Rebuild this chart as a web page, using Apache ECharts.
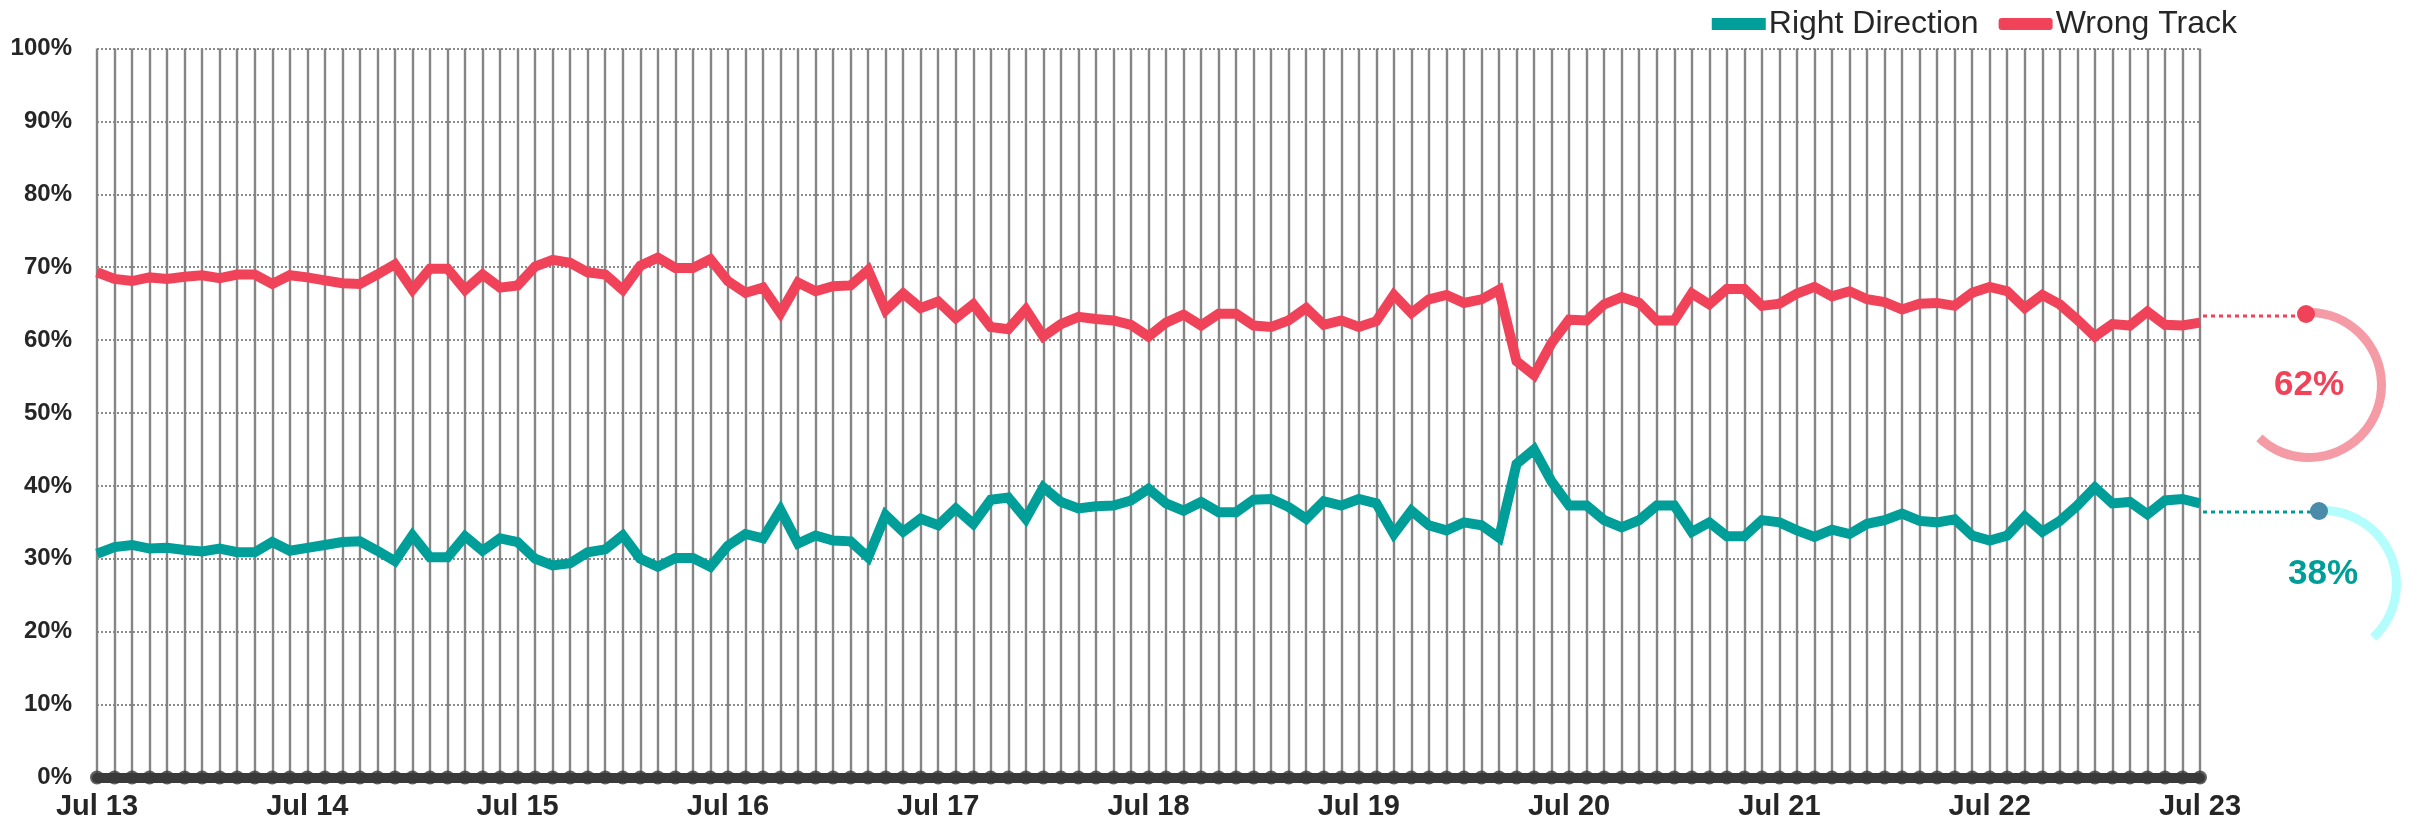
<!DOCTYPE html>
<html lang="en">
<head>
	<meta charset="UTF-8">
	<title>Right Direction / Wrong Track</title>
	<script src="https://cdn.jsdelivr.net/npm/echarts@6/dist/echarts.min.js"></script>
</head>
<style>
	html, body { margin: 0; padding: 0; background: #fff; }
	#main { width: 2410px; height: 826px; }
</style>
<body>
<div id="main"></div>
<script>
	// months Jul 13 .. Jul 23
	var monthNames = ['Jul', 'Aug', 'Sep', 'Oct', 'Nov', 'Dec', 'Jan', 'Feb', 'Mar', 'Apr', 'May', 'Jun'];
	var months = [];
	for (var i = 0; i <= 120; i++) {
		months.push(monthNames[i % 12] + ' ' + (13 + Math.floor((i + 6) / 12)));
	}

	var wrongTrack = [
		69.3, 68.4, 68.1, 68.6, 68.4, 68.7, 68.9, 68.5, 69.0, 69.0, 67.7, 68.9, 68.6, 68.2, 67.8, 67.7, 69.0, 70.4, 66.9, 69.8, 69.8,
		66.9, 69.0, 67.2, 67.5, 70.1, 71.0, 70.6, 69.3, 69.0, 66.9, 70.2, 71.3, 69.9, 69.9, 71.1, 68.1, 66.5, 67.2, 63.7, 67.9,
		66.7, 67.4, 67.5, 69.6, 64.1, 66.4, 64.4, 65.3, 63.0, 64.9, 61.8, 61.5, 64.2, 60.5, 62.2, 63.2, 62.9, 62.7, 62.1, 60.5,
		62.4, 63.5, 62.0, 63.6, 63.6, 62.0, 61.8, 62.7, 64.4, 62.1, 62.7, 61.8, 62.6, 66.2, 63.7, 65.6, 66.2, 65.1, 65.6, 66.9,
		57.1, 55.2, 59.6, 62.8, 62.7, 64.9, 65.9, 65.1, 62.7, 62.7, 66.4, 64.9, 67.0, 67.0, 64.7, 65.0, 66.4, 67.3, 66.0, 66.7,
		65.6, 65.2, 64.2, 65.0, 65.1, 64.7, 66.5, 67.3, 66.7, 64.4, 66.2, 64.9, 62.8, 60.5, 62.2, 62.0, 63.9, 62.1, 62.0, 62.4
	];
	var rightDirection = [
		30.7, 31.6, 31.9, 31.4, 31.5, 31.2, 31.0, 31.4, 30.9, 30.9, 32.3, 31.1, 31.5, 31.9, 32.3, 32.4, 31.1, 29.7, 33.2, 30.2, 30.2,
		33.1, 31.1, 32.8, 32.3, 30.0, 29.1, 29.4, 30.9, 31.3, 33.2, 30.0, 28.9, 30.1, 30.1, 28.9, 31.8, 33.4, 32.8, 36.7, 32.1,
		33.2, 32.5, 32.4, 30.2, 36.0, 33.7, 35.5, 34.6, 36.9, 34.8, 38.1, 38.4, 35.5, 39.8, 37.8, 36.9, 37.2, 37.3, 38.0, 39.6,
		37.6, 36.6, 37.8, 36.4, 36.4, 38.1, 38.2, 37.1, 35.5, 37.9, 37.3, 38.2, 37.6, 33.4, 36.6, 34.6, 33.9, 35.0, 34.6, 32.9,
		43.0, 45.0, 40.6, 37.3, 37.3, 35.3, 34.3, 35.3, 37.3, 37.3, 33.7, 35.0, 33.1, 33.1, 35.3, 35.0, 33.9, 33.0, 34.0, 33.4,
		34.8, 35.3, 36.2, 35.2, 35.0, 35.4, 33.2, 32.5, 33.2, 35.8, 33.7, 35.2, 37.3, 39.8, 37.6, 37.8, 36.1, 38.0, 38.2, 37.6
	];

	var RED = '#F04359', TEAL = '#009E99';
	var FONT = '"Liberation Sans", Arial, sans-serif';

	var lastWrong = Math.round(wrongTrack[wrongTrack.length - 1]);
	var lastRight = Math.round(rightDirection[rightDirection.length - 1]);

	// ring gauge on the right side showing the latest reading
	function ring(value, center, radius, ringColor, textColor, offsetY) {
		return {
			type: 'gauge',
			center: center,
			radius: radius,
			startAngle: 90,
			endAngle: -270,
			clockwise: true,
			min: 0,
			max: 100,
			silent: true,
			progress: { show: true, width: 9, roundCap: false, itemStyle: { color: ringColor } },
			axisLine: { show: true, lineStyle: { width: 9, color: [[1, 'rgba(0,0,0,0)']] } },
			pointer: { show: false },
			anchor: { show: false },
			axisTick: { show: false },
			splitLine: { show: false },
			axisLabel: { show: false },
			title: { show: false },
			detail: {
				formatter: '{value}%',
				offsetCenter: [0, offsetY],
				fontSize: 35,
				fontWeight: 'bold',
				fontFamily: FONT,
				color: textColor
			},
			data: [{ value: value }]
		};
	}

	var myChart = echarts.init(document.getElementById('main'));
	var option = {
		animation: false,
		backgroundColor: '#fff',
		legend: {
			data: [
				{ name: 'Right Direction', icon: 'rect' },
				{ name: 'Wrong Track', icon: 'roundRect' }
			],
			right: 168,
			top: 3,
			itemWidth: 54,
			itemHeight: 12,
			itemGap: 20,
			textStyle: { fontSize: 32, color: '#262626', fontFamily: FONT, padding: [0, 0, 0, -2] }
		},
		grid: { left: 97, right: 210, top: 48.5, bottom: 48.5 },
		xAxis: {
			type: 'category',
			data: months,
			boundaryGap: false,
			axisLine: { show: true, lineStyle: { color: '#3a3a3a', width: 10 } },
			axisTick: { show: false },
			axisLabel: {
				interval: 11,
				margin: 15,
				fontSize: 29,
				fontWeight: 'bold',
				color: '#262626',
				fontFamily: FONT
			},
			splitLine: { show: true, interval: 0, lineStyle: { color: '#858585', width: 2.4 } }
		},
		yAxis: {
			type: 'value',
			min: 0,
			max: 100,
			interval: 10,
			axisLine: { show: false },
			axisTick: { show: false },
			axisLabel: {
				formatter: '{value}%',
				margin: 25,
				fontSize: 24,
				fontWeight: 'bold',
				color: '#262626',
				fontFamily: FONT
			},
			splitLine: { show: true, lineStyle: { color: '#6f6f6f', width: 1.6, type: [2, 2] } }
		},
		series: [
			{
				name: 'Right Direction',
				type: 'line',
				data: rightDirection,
				symbol: 'none',
				color: TEAL,
				lineStyle: { width: 10, color: TEAL, join: 'miter' },
				z: 3
			},
			{
				name: 'Wrong Track',
				type: 'line',
				data: wrongTrack,
				symbol: 'none',
				color: RED,
				lineStyle: { width: 10, color: RED, join: 'miter' },
				z: 3
			},
			{
				// knobs along the base line
				name: 'axisDots',
				type: 'scatter',
				data: months.map(function () { return 0; }),
				symbol: 'circle',
				symbolSize: 14,
				itemStyle: { color: '#3a3a3a' },
				clip: false,
				silent: true,
				z: 4
			},
			ring(lastWrong, [2309, 385], 77, '#F59BA5', RED, 0),
			ring(lastRight, [2323, 584], 78, '#B3FDFC', TEAL, -10)
		],
		graphic: [
			{ type: 'line', shape: { x1: 2203, y1: 316, x2: 2298, y2: 316 }, style: { stroke: RED, lineWidth: 3, lineDash: [4, 4] }, z: 10 },
			{ type: 'circle', shape: { cx: 2306, cy: 314, r: 9 }, style: { fill: RED }, z: 11 },
			{ type: 'line', shape: { x1: 2203, y1: 512, x2: 2311, y2: 512 }, style: { stroke: TEAL, lineWidth: 3, lineDash: [4, 4] }, z: 10 },
			{ type: 'circle', shape: { cx: 2319, cy: 511, r: 9 }, style: { fill: '#4A8BAA' }, z: 11 }
		]
	};
	myChart.setOption(option);
</script>
</body>
</html>
